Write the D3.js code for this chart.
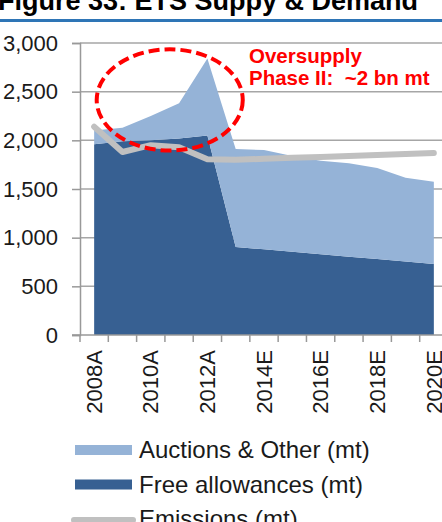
<!DOCTYPE html>
<html>
<head>
<meta charset="utf-8">
<script src="https://cdn.jsdelivr.net/npm/d3@7"></script>
<style>
  body { margin: 0; background: #fff; }
  svg { display: block; font-family: "Liberation Sans", Arial, sans-serif; }
</style>
</head>
<body>
<div id="chart"></div>
<script>
// categories + series (mt)
var years = ["2008A","2009A","2010A","2011A","2012A","2013E","2014E","2015E","2016E","2017E","2018E","2019E","2020E"];
var shownYears = ["2008A","2010A","2012A","2014E","2016E","2018E","2020E"];
var freeAllow = [1960, 1990, 2000, 2020, 2050, 905, 880, 855, 830, 805, 780, 755, 730];
var auctions  = [140, 140, 250, 360, 790, 1005, 1020, 985, 960, 960, 935, 860, 845];
var emissions = [2140, 1880, 1950, 1930, 1805, 1800, 1810, 1820, 1830, 1840, 1850, 1860, 1870];
var yTicks = [0, 500, 1000, 1500, 2000, 2500, 3000];

var svgWidth = 442, svgHeight = 522;
var plot = {left: 80, right: 448, top: 43, bottom: 335};
var darkBlue = "#376092", lightBlue = "#95b3d7", grey = "#c0c0c0", red = "#ff0000";

var svg = d3.select("#chart").append("svg")
  .attr("width", svgWidth).attr("height", svgHeight);

// title (cropped at the top in the reference)
svg.append("text")
  .attr("x", -2).attr("y", 10)
  .style("font-weight", "bold").style("font-size", "27px")
  .text("Figure 33: ETS Suppy & Demand");
svg.append("line")
  .attr("x1", 0).attr("x2", svgWidth).attr("y1", 20.5).attr("y2", 20.5)
  .attr("stroke", "#2e75b6").attr("stroke-width", 3);

var x = d3.scaleBand().domain(years).range([plot.left, plot.right]).padding(0);
var y = d3.scaleLinear().domain([0, 3000]).range([plot.bottom, plot.top]);
var cx = function(d) { return x(d) + x.bandwidth() / 2; };

// gridlines
svg.append("g").selectAll("line").data(yTicks.slice(1)).join("line")
  .attr("x1", plot.left).attr("x2", plot.right)
  .attr("y1", function(d) { return y(d); }).attr("y2", function(d) { return y(d); })
  .attr("stroke", "#a6a6a6").attr("stroke-width", 1.5);

// stacked areas
var rows = years.map(function(yr, i) { return {year: yr, free: freeAllow[i], auctions: auctions[i]}; });
var stack = d3.stack().keys(["free", "auctions"])(rows);
var area = d3.area()
  .x(function(d) { return cx(d.data.year); })
  .y0(function(d) { return y(d[0]); })
  .y1(function(d) { return y(d[1]); });
svg.append("g").selectAll("path").data(stack).join("path")
  .attr("d", area)
  .attr("fill", function(d) { return d.key == "free" ? darkBlue : lightBlue; });

// emissions line
var line = d3.line()
  .x(function(d, i) { return cx(years[i]); })
  .y(function(d) { return y(d); });
svg.append("path").datum(emissions)
  .attr("d", line).attr("fill", "none")
  .attr("stroke", grey).attr("stroke-width", 6)
  .attr("stroke-linecap", "round").attr("stroke-linejoin", "round");

// y axis
var yAxis = d3.axisLeft(y).tickValues(yTicks).tickFormat(d3.format(",")).tickSize(8).tickPadding(14);
var gy = svg.append("g").attr("transform", "translate(" + plot.left + ",0)").call(yAxis);
gy.select(".domain").attr("stroke", "#999").attr("stroke-width", 1.5);
gy.selectAll(".tick line").attr("stroke", "#999").attr("stroke-width", 1.5);
gy.selectAll(".tick text").style("font-size", "22px").attr("fill", "#1a1a1a");

// x axis: line, ticks between categories, every other label rotated
var gx = svg.append("g");
gx.append("line")
  .attr("x1", plot.left - 8).attr("x2", plot.right)
  .attr("y1", plot.bottom).attr("y2", plot.bottom)
  .attr("stroke", "#999").attr("stroke-width", 1.5);
gx.selectAll("line.tk").data(years.concat(["end"])).join("line").attr("class", "tk")
  .attr("x1", function(d) { return d == "end" ? plot.right : x(d); })
  .attr("x2", function(d) { return d == "end" ? plot.right : x(d); })
  .attr("y1", plot.bottom).attr("y2", plot.bottom + 7)
  .attr("stroke", "#999").attr("stroke-width", 1.5);
gx.selectAll("text").data(shownYears).join("text")
  .attr("transform", function(d) { return "translate(" + cx(d) + "," + (plot.bottom + 15) + ") rotate(-90)"; })
  .attr("dy", "0.35em").attr("text-anchor", "end")
  .style("font-size", "22px").attr("fill", "#1a1a1a")
  .text(function(d) { return d; });

// oversupply annotation
var bw = x.bandwidth();
svg.append("ellipse")
  .attr("cx", cx("2010A") + 0.67 * bw).attr("cy", y(2415))
  .attr("rx", 2.58 * bw).attr("ry", y(0) - y(520))
  .attr("fill", "none").attr("stroke", red).attr("stroke-width", 4)
  .attr("stroke-dasharray", "11,5");
var note = svg.append("text")
  .attr("fill", red).style("font-weight", "bold").style("font-size", "20.5px");
note.append("tspan").attr("x", 249).attr("y", 63).text("Oversupply");
note.append("tspan").attr("x", 249).attr("y", 85).attr("xml:space", "preserve").text("Phase II:  ~2 bn mt");

// legend
var legendItems = [
  {label: "Auctions & Other (mt)", color: lightBlue, kind: "rect"},
  {label: "Free allowances (mt)", color: darkBlue, kind: "rect"},
  {label: "Emissions (mt)", color: grey, kind: "line"}
];
var lg = svg.append("g").attr("transform", "translate(75,450)");
legendItems.forEach(function(it, i) {
  var row = lg.append("g").attr("transform", "translate(0," + (i * 34.5) + ")");
  if (it.kind == "rect") {
    row.append("rect").attr("x", 0).attr("y", -5).attr("width", 57).attr("height", 10).attr("fill", it.color);
  } else {
    row.append("line").attr("x1", -1).attr("x2", 58).attr("y1", 1).attr("y2", 1)
      .attr("stroke", it.color).attr("stroke-width", 6).attr("stroke-linecap", "round");
  }
  row.append("text").attr("x", 64).attr("y", 8)
    .style("font-size", "24px").attr("fill", "#1a1a1a").text(it.label);
});
</script>
</body>
</html>
